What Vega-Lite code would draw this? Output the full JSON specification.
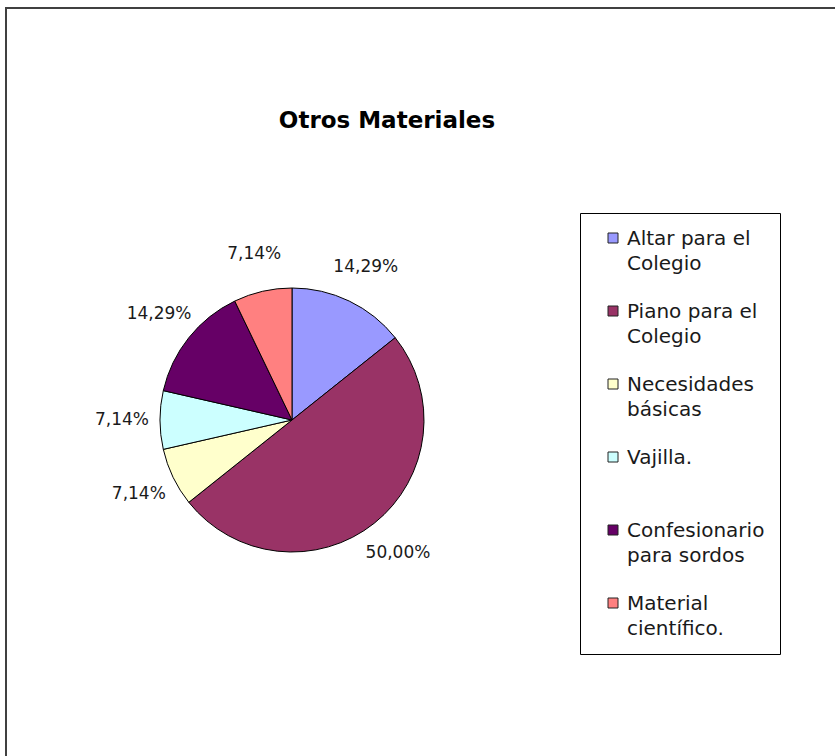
{
  "$schema": "https://vega.github.io/schema/vega-lite/v6.json",
  "width": 835,
  "height": 756,
  "autosize": {"type": "fit", "contains": "padding"},
  "padding": {"left": 6, "top": 8, "right": -3, "bottom": -3},
  "background": "white",
  "view": {"stroke": "#404040", "strokeWidth": 2},
  "data": {
    "values": [
      {"idx": 1, "cat": "Altar para el\nColegio", "value": 2, "label": "14,29%"},
      {"idx": 2, "cat": "Piano para el\nColegio", "value": 7, "label": "50,00%"},
      {"idx": 3, "cat": "Necesidades\nbásicas", "value": 1, "label": "7,14%"},
      {"idx": 4, "cat": "Vajilla.\n", "value": 1, "label": "7,14%"},
      {"idx": 5, "cat": "Confesionario\npara sordos", "value": 2, "label": "14,29%"},
      {"idx": 6, "cat": "Material\ncientífico.", "value": 1, "label": "7,14%"}
    ]
  },
  "layer": [
    {
      "mark": {"type": "arc", "outerRadius": 132, "stroke": "black", "strokeWidth": 1, "x": 286, "y": 412},
      "encoding": {
        "theta": {"field": "value", "type": "quantitative", "stack": true},
        "order": {"field": "idx", "type": "quantitative"},
        "color": {
          "field": "cat",
          "type": "nominal",
          "sort": null,
          "scale": {
            "domain": ["Altar para el\nColegio", "Piano para el\nColegio", "Necesidades\nbásicas", "Vajilla.\n", "Confesionario\npara sordos", "Material\ncientífico."],
            "range": ["#9999FF", "#993366", "#FFFFCC", "#CCFFFF", "#660066", "#FF8080"]
          },
          "legend": {
            "orient": "none",
            "legendX": 574,
            "legendY": 205,
            "title": null,
            "direction": "vertical",
            "strokeColor": "#000000",
            "fillColor": "#ffffff",
            "padding": 15,
            "symbolOffset": 8,
            "symbolType": "square",
            "symbolSize": 100,
            "symbolStrokeColor": "#222222",
            "symbolStrokeWidth": 1,
            "labelFont": "DejaVu Sans",
            "labelFontSize": 20,
            "labelColor": "#1a1a1a",
            "labelOffset": 4,
            "labelLimit": 400,
            "labelBaseline": "top",
            "rowPadding": 27,
            "labelExpr": "split(datum.label, '\\n')",
            "encode": {"labels": {"update": {"lineHeight": {"value": 25}, "dy": {"value": -9}}}}
          }
        }
      }
    },
    {
      "mark": {"type": "text", "radius": 170, "x": 286, "y": 412, "font": "DejaVu Sans", "fontSize": 17, "fill": "#1a1a1a", "align": "center", "baseline": "middle"},
      "encoding": {
        "theta": {"field": "value", "type": "quantitative", "stack": true},
        "order": {"field": "idx", "type": "quantitative"},
        "text": {"field": "label", "type": "nominal"}
      }
    },
    {
      "data": {"values": [{"t": "Otros Materiales"}]},
      "mark": {"type": "text", "x": 381, "y": 120, "font": "DejaVu Sans", "fontWeight": "bold", "fontSize": 23, "fill": "#000000", "align": "center", "baseline": "alphabetic"},
      "encoding": {"text": {"field": "t", "type": "nominal"}}
    }
  ]
}
